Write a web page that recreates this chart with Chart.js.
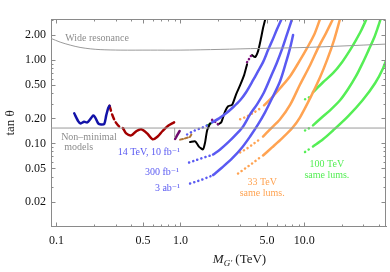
<!DOCTYPE html>
<html>
<head>
<meta charset="utf-8">
<script src="https://cdn.jsdelivr.net/npm/chart.js@4.4.0/dist/chart.umd.min.js"></script>
<style>
html,body{margin:0;padding:0;background:#fff;}
#wrap{width:390px;height:272px;position:relative;}
</style>
</head>
<body>
<div id="wrap"><canvas id="chart"></canvas></div>
<script>
// x = M_G' (TeV), y = tan theta
const wideRes = [[0.0903,1.825],[0.107,1.647],[0.129,1.516],[0.155,1.422],[0.187,1.368],[0.225,1.338],[0.326,1.32],[0.57,1.32],[0.994,1.32],[2.09,1.346],[4.39,1.384],[9.23,1.414],[19.4,1.475],[45.6,1.559]];
const nonMinimal = [[0.0903,0.153],[45.6,0.153]];

const darkBlue = [[0.139,0.230],[0.150,0.184],[0.157,0.174],[0.167,0.182],[0.177,0.179],[0.187,0.195],[0.198,0.217],[0.205,0.206],[0.217,0.174],[0.229,0.169],[0.243,0.172],[0.252,0.217],[0.261,0.264],[0.268,0.283]];
const redDashed = [[0.268,0.283],[0.281,0.223],[0.297,0.184],[0.320,0.160],[0.345,0.152]];
const redSolid = [[0.345,0.152],[0.365,0.132],[0.401,0.125],[0.443,0.141],[0.482,0.148],[0.539,0.132],[0.597,0.112],[0.655,0.121],[0.718,0.141],[0.796,0.163],[0.889,0.179]];
const graySeg = [[0.897,0.152],[0.897,0.118]];
const purpleSeg = [[0.906,0.113],[0.940,0.125],[0.986,0.141]];
const brownDashed = [[0.994,0.111],[1.091,0.115],[1.197,0.120],[1.242,0.132]];

const black1 = [[1.197,0.104],[1.315,0.106],[1.416,0.091],[1.524,0.085],[1.582,0.103],[1.642,0.143],[1.737,0.174]];
const greenSeg = [[1.642,0.165],[1.768,0.174]];
const purpleDots1 = [[1.802,0.192],[1.905,0.182],[2.014,0.169]];
const black2 = [[2.014,0.169],[2.133,0.179],[2.209,0.206],[2.294,0.243],[2.425,0.279],[2.614,0.291],[2.814,0.389],[3.033,0.500],[3.266,0.660],[3.452,0.895]];
const purpleDots2 = [[3.452,0.946],[3.613,1.057],[3.786,1.181]];
const black3 = [[3.786,1.149],[4.003,1.087],[4.232,1.283],[4.474,1.841],[4.643,2.43],[4.865,3.21]];

// 14 TeV
const blue1Dots = [[1.132,0.128],[1.266,0.140],[1.416,0.150],[1.582,0.160],[1.737,0.172]];
const blue1 = [[1.802,0.179],[2.052,0.200],[2.337,0.230],[2.661,0.272],[3.033,0.330],[3.388,0.412],[3.857,0.574],[4.232,0.737],[4.643,0.946],[5.096,1.320],[5.490,1.694],[6.025,2.363],[6.607,3.207]];
const blue2Dots = [[1.175,0.0590],[1.315,0.0624],[1.468,0.0660],[1.642,0.0697],[1.768,0.0717]];
const blue2 = [[1.835,0.0737],[2.091,0.0847],[2.425,0.1028],[2.814,0.1284],[3.206,0.160],[3.649,0.2236],[4.153,0.295],[4.731,0.412],[5.387,0.641],[6.025,0.946],[6.607,1.357],[7.253,2.057],[7.96,3.12]];
const blue3Dots = [[1.197,0.0330],[1.339,0.0348],[1.496,0.0368],[1.642,0.0389],[1.768,0.0406]];
const blue3 = [[1.835,0.0417],[2.170,0.0514],[2.614,0.0660],[3.145,0.0895],[3.649,0.1212],[4.232,0.169],[4.818,0.236],[5.49,0.348],[6.37,0.558],[7.12,0.946],[7.67,1.395],[8.11,2.0]];

// 33 TeV
const orange1Dots = [[3.033,0.195],[3.452,0.2115],[3.93,0.236],[4.56,0.272]];
const orange1 = [[4.731,0.287],[5.49,0.358],[6.37,0.460],[7.67,0.641],[9.23,1.0],[10.51,1.395],[11.97,2.0],[13.39,3.12]];
const orange2Dots = [[3.033,0.078],[3.452,0.0871],[3.93,0.100],[4.474,0.115]];
const orange2 = [[4.643,0.121],[5.29,0.1475],[6.37,0.195],[7.67,0.290],[9.23,0.51],[11.12,0.870],[12.9,1.395],[14.96,2.115],[17.03,3.12]];
const orange3Dots = [[2.918,0.0435],[3.325,0.0500],[3.786,0.0574],[4.39,0.0678]];
const orange3 = [[4.643,0.0717],[5.49,0.0895],[6.607,0.115],[7.96,0.152],[9.23,0.206],[11.12,0.348],[13.39,0.624],[15.24,1.0],[17.37,1.742],[19.41,3.12]];

// 100 TeV
const green1Dots = [[10.13,0.339],[10.91,0.358]];
const green1 = [[11.75,0.412],[14.15,0.543],[17.03,0.697],[20.14,0.946],[23.37,1.320],[26.1,1.742],[28.6,2.235],[32.0,3.207]];
const green2Dots = [[10.13,0.143],[10.91,0.152]];
const green2 = [[11.75,0.165],[13.89,0.206],[16.12,0.250],[19.41,0.330],[22.5,0.447],[26.1,0.641],[29.5,0.920],[33.0,1.320],[36.5,1.841],[39.3,2.50],[41.5,3.207]];
const green3Dots = [[10.13,0.0790],[10.91,0.0850]];
const green3 = [[11.75,0.092],[14.15,0.112],[17.03,0.143],[22.5,0.2115],[29.5,0.330],[37.2,0.528],[43.2,0.801],[47.3,1.149]];

// ticks
const xMajor = [0.1, 0.5, 1, 5, 10];
const xMajorLabels = ['0.1', '0.5', '1.0', '5.0', '10.0'];
const yMajor = [0.02, 0.05, 0.1, 0.2, 0.5, 1, 2];
const yMajorLabels = ['0.02', '0.05', '0.10', '0.20', '0.50', '1.00', '2.00'];

const xMin = 0.0903, xMax = 45.6, yMin = 0.01, yMax = 3.12;

const BLUE = '#5a5af2', ORANGE = '#ffa352', GREEN = '#55ee55', GREY = '#9a9a9a';
const serif = '"Liberation Serif", "DejaVu Serif", serif';

function minorTicks(lo, hi, majors) {
  const out = [];
  for (let e = -3; e <= 2; e++) {
    for (let k = 1; k <= 9; k++) {
      const v = +(k * Math.pow(10, e)).toPrecision(6);
      if (v >= lo && v <= hi && !majors.includes(v)) out.push(v);
    }
  }
  return out;
}
const xMinor = minorTicks(xMin, xMax, xMajor);
const yMinor = minorTicks(yMin, yMax, yMajor);

function line(pts, color, width, dash, tension) {
  return {
    data: pts.map(p => ({x: p[0], y: p[1]})),
    borderColor: color,
    borderWidth: width,
    borderDash: dash || [],
    borderCapStyle: 'round',
    borderJoinStyle: 'round',
    pointRadius: 0,
    showLine: true,
    fill: false,
    tension: tension === undefined ? 0.3 : tension,
    clip: 0
  };
}
const DOTS = [0.1, 4.2];

const datasets = [
  line(wideRes, GREY, 1, null, 0.3),
  line(nonMinimal, GREY, 1, null, 0),
  line(darkBlue, '#1212a8', 2.5, null, 0.25),
  line(redDashed, '#a30000', 2.5, [5, 4], 0.2),
  line(redSolid, '#a30000', 2.5, null, 0.3),
  line(graySeg, '#b0b0b0', 1, null, 0),
  line(purpleSeg, '#6e0a6e', 2.5, null, 0),
  line(brownDashed, '#b07535', 2, [3, 2], 0),
  line(blue1Dots, BLUE, 2.5, DOTS),
  line(blue1, BLUE, 2.5),
  line(blue2Dots, BLUE, 2.5, DOTS),
  line(blue2, BLUE, 2.5),
  line(blue3Dots, BLUE, 2.5, DOTS),
  line(blue3, BLUE, 2.5),
  line(orange1Dots, ORANGE, 2.5, DOTS),
  line(orange1, ORANGE, 2.5),
  line(orange2Dots, ORANGE, 2.5, DOTS),
  line(orange2, ORANGE, 2.5),
  line(orange3Dots, ORANGE, 2.5, DOTS),
  line(orange3, ORANGE, 2.5),
  line(green1Dots, GREEN, 2.5, DOTS),
  line(green1, GREEN, 2.5),
  line(green2Dots, GREEN, 2.5, DOTS),
  line(green2, GREEN, 2.5),
  line(green3Dots, GREEN, 2.5, DOTS),
  line(green3, GREEN, 2.5),
  line(black1, '#000', 2, null, 0.2),
  line(greenSeg, '#22aa22', 2, null, 0),
  line(purpleDots1, '#7a127a', 2.5, [0.1, 3.5], 0),
  line(black2, '#000', 2, null, 0.2),
  line(purpleDots2, '#7a127a', 2.5, [0.1, 3.5], 0),
  line(black3, '#000', 2, null, 0.2)
];

// text annotations in data coordinates
const notes = [
  {text: 'Wide resonance', x: 0.1175, y: 1.84, color: '#8c8c8c', align: 'left'},
  {text: 'Non–minimal', x: 0.109, y: 0.119, color: '#8c8c8c', align: 'left'},
  {text: 'models', x: 0.1155, y: 0.0895, color: '#8c8c8c', align: 'left'},
  {text: '14 TeV, 10 fb⁻¹', x: 0.994, y: 0.079, color: BLUE, align: 'right'},
  {text: '300 fb⁻¹', x: 0.976, y: 0.0447, color: BLUE, align: 'right'},
  {text: '3 ab⁻¹', x: 0.994, y: 0.0287, color: BLUE, align: 'right'},
  {text: '33 TeV', x: 4.57, y: 0.0339, color: ORANGE, align: 'center'},
  {text: 'same lums.', x: 4.57, y: 0.0250, color: ORANGE, align: 'center'},
  {text: '100 TeV', x: 15.2, y: 0.0566, color: GREEN, align: 'center'},
  {text: 'same lums.', x: 15.2, y: 0.0411, color: GREEN, align: 'center'}
];

const frameTicks = {
  id: 'frameTicks',
  afterDraw(chart) {
    const {ctx, chartArea: a, scales} = chart;
    const xs = scales.x, ys = scales.y;
    ctx.save();
    ctx.strokeStyle = '#8a8a8a';
    ctx.lineWidth = 1;
    const L = Math.round(a.left) + 0.5, R = Math.round(a.right) - 0.5;
    const T = Math.round(a.top) + 0.5, B = Math.round(a.bottom) - 0.5;
    ctx.beginPath();
    ctx.moveTo(L, T); ctx.lineTo(R, T); ctx.lineTo(R, B);
    // inward ticks on all four sides
    const xt = xMajor.map(v => [v, 4]).concat(xMinor.map(v => [v, 2]));
    xt.forEach(([v, len]) => {
      const px = Math.round(xs.getPixelForValue(v)) + 0.5;
      if (px < a.left || px > a.right) return;
      ctx.moveTo(px, B); ctx.lineTo(px, B - len);
      ctx.moveTo(px, T); ctx.lineTo(px, T + len);
    });
    const yt = yMajor.map(v => [v, 4]).concat(yMinor.map(v => [v, 2]));
    yt.forEach(([v, len]) => {
      const py = Math.round(ys.getPixelForValue(v)) + 0.5;
      if (py < a.top || py > a.bottom) return;
      ctx.moveTo(L, py); ctx.lineTo(L + len, py);
      ctx.moveTo(R, py); ctx.lineTo(R - len, py);
    });
    ctx.stroke();

    // notes
    ctx.font = '10px ' + serif;
    ctx.textBaseline = 'middle';
    notes.forEach(n => {
      ctx.fillStyle = n.color;
      ctx.textAlign = n.align;
      ctx.fillText(n.text, xs.getPixelForValue(n.x), ys.getPixelForValue(n.y));
    });

    // axis titles
    ctx.fillStyle = '#222';
    ctx.textAlign = 'left';
    ctx.textBaseline = 'alphabetic';
    const cx = (a.left + a.right) / 2 + 21;
    const base = 263;
    ctx.font = 'italic 13px ' + serif;
    const wM = ctx.measureText('M').width;
    ctx.font = 'italic 9px ' + serif;
    const wG = ctx.measureText('G′').width;
    ctx.font = '13px ' + serif;
    const wT = ctx.measureText(' (TeV)').width;
    let x0 = cx - (wM + wG + wT) / 2;
    ctx.font = 'italic 13px ' + serif;
    ctx.fillText('M', x0, base);
    ctx.font = 'italic 9px ' + serif;
    ctx.fillText('G′', x0 + wM, base + 2.5);
    ctx.font = '13px ' + serif;
    ctx.fillText(' (TeV)', x0 + wM + wG, base);

    ctx.translate(11, (a.top + a.bottom) / 2);
    ctx.rotate(-Math.PI / 2);
    ctx.textAlign = 'center';
    ctx.textBaseline = 'middle';
    ctx.font = '13px ' + serif;
    ctx.fillText('tan θ', 0, 0);
    ctx.restore();
  }
};

new Chart(document.getElementById('chart'), {
  type: 'scatter',
  data: {datasets: datasets},
  options: {
    responsive: true,
    maintainAspectRatio: false,
    animation: false,
    layout: {padding: {left: 0, top: 19, right: 4, bottom: 0}},
    plugins: {legend: {display: false}, tooltip: {enabled: false}},
    scales: {
      x: {
        type: 'logarithmic',
        min: xMin,
        max: xMax,
        grid: {display: false, drawTicks: false},
        border: {display: true, color: '#8a8a8a', width: 1},
        afterBuildTicks: s => { s.ticks = xMajor.map(v => ({value: v})); },
        afterFit: s => { s.height = 45.3; },
        ticks: {
          autoSkip: false,
          maxRotation: 0,
          padding: 7,
          color: '#111',
          font: {family: serif, size: 12},
          callback: v => {
            const i = xMajor.indexOf(v);
            return i >= 0 ? xMajorLabels[i] : '';
          }
        }
      },
      y: {
        type: 'logarithmic',
        min: yMin,
        max: yMax,
        grid: {display: false, drawTicks: false},
        border: {display: true, color: '#8a8a8a', width: 1},
        afterBuildTicks: s => { s.ticks = yMajor.map(v => ({value: v})); },
        afterFit: s => { s.width = 51; },
        ticks: {
          autoSkip: false,
          padding: 5,
          color: '#111',
          font: {family: serif, size: 12},
          callback: v => {
            const i = yMajor.indexOf(v);
            return i >= 0 ? yMajorLabels[i] : '';
          }
        }
      }
    }
  },
  plugins: [frameTicks]
});
</script>
</body>
</html>
